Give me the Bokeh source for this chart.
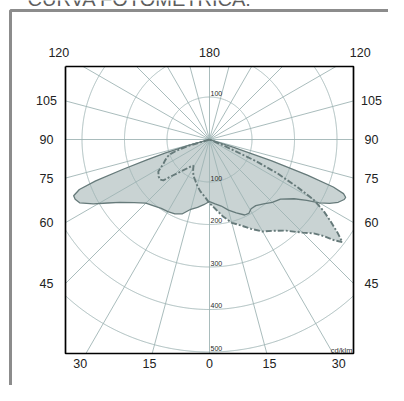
import math
import numpy as np
from bokeh.plotting import figure
from bokeh.models import Range1d, Label, LabelSet, ColumnDataSource
from bokeh.core.properties import value
from bokeh.embed import file_html
from bokeh.resources import INLINE

# ---------------- data (cd/klm, gamma in degrees from nadir) ----------------
solid_left_gamma = [0, 5, 10, 15, 20, 25, 30, 35, 40, 45, 50, 55, 58, 61, 64, 66, 67.5, 69, 70, 71, 72, 73, 74, 75]
solid_left_cd = [146, 154, 162, 170, 186, 193, 196, 198, 204, 212, 231, 258, 282, 312, 340, 346, 346, 328, 285, 215, 155, 108, 55, 0]
solid_right_gamma = [0, 5, 10, 15, 20, 25, 28, 31, 35, 40, 45, 50, 55, 58, 60, 62, 64, 66, 67, 68, 69, 70, 71, 72, 73]
solid_right_cd = [146, 152, 159, 172, 184, 196, 197, 190, 190, 198, 209, 218, 243, 270, 298, 320, 337, 347, 348, 340, 312, 245, 155, 60, 0]

dash_left_gamma = [0, 4, 10, 15, 24, 28, 31.6, 35, 42, 46.5, 48.5, 51, 54, 58, 62.4, 65, 67.5, 69.5, 71.5, 73, 74]
dash_left_cd = [150, 137, 124, 112, 93, 82, 72, 78, 102, 127, 145, 150, 148, 142, 122, 115, 108, 100, 80, 50, 0]
dash_right_gamma = [0, 3, 6, 10, 15, 20, 25, 30, 35, 40, 45, 48, 50, 51, 52.3, 54, 56, 58, 60, 61.5, 63.5, 65, 67, 68]
dash_right_cd = [150, 158, 168, 184, 203, 215, 232, 250, 262, 280, 310, 330, 355, 376, 395, 372, 343, 316, 282, 236, 179, 122, 36, 0]

circle_values = [100, 200, 300, 400, 500]
circle_labels = ["100", "200", "300", "400", "500"]
ray_step_deg = 15
side_angles = [105, 90, 75, 60, 45]
bottom_angles = [30, 15, 0, 15, 30]
bottom_sides = [-1, -1, 0, 1, 1]
top_angles = [120, 180, 120]
top_sides = [-1, 0, 1]
unit_text = "cd/klm"
title_text = "CURVA FOTOMÉTRICA:"

# ---------------- layout (pixels) ----------------
W, H = 388, 385
CX, CY = 209.0, 139.0          # pole position
S = 0.425                      # px per cd/klm
FL, FR, FT, FB = 65, 353, 66, 353   # black diagram box
FONT = "Liberation Sans"

FILL = "#c9d3d3"
GRID = "#9fb4b4"
EDGE = "#667a7a"
TXT = "#222222"


def px_x(px):
    return (px - CX) / S


def px_y(py):
    return (CY - py) / S


def half(gammas, vals, sign):
    xs = [sign * v * math.sin(math.radians(g)) for g, v in zip(gammas, vals)]
    ys = [-v * math.cos(math.radians(g)) for g, v in zip(gammas, vals)]
    return xs, ys


def closed_curve(gl, vl, gr, vr):
    lx, ly = half(gl, vl, -1)
    rx, ry = half(gr, vr, 1)
    xs = lx[::-1] + rx
    ys = ly[::-1] + ry
    return xs + [xs[0]], ys + [ys[0]]


BXL, BXR, BYT, BYB = px_x(FL), px_x(FR), px_y(FT), px_y(FB)

p = figure(width=W, height=H, title=None,
           x_range=Range1d(px_x(0), px_x(W)), y_range=Range1d(px_y(H), px_y(0)),
           x_axis_location=None, y_axis_location=None,
           toolbar_location=None, output_backend="svg",
           min_border_left=0, min_border_right=0, min_border_top=0, min_border_bottom=0)
p.grid.visible = False
p.outline_line_color = None
p.background_fill_color = "white"
p.border_fill_color = "white"

sx, sy = closed_curve(solid_left_gamma, solid_left_cd, solid_right_gamma, solid_right_cd)
dx_, dy_ = closed_curve(dash_left_gamma, dash_left_cd, dash_right_gamma, dash_right_cd)

# fills
p.patch(sx, sy, fill_color=FILL, line_color=None)
p.patch(dx_, dy_, fill_color=FILL, line_color=None)

# polar grid, clipped to the diagram box
x0s, y0s, x1s, y1s = [], [], [], []
for a in range(0, 360, ray_step_deg):
    t = math.radians(a)
    c, s = math.cos(t), math.sin(t)
    cand = []
    if c > 1e-9: cand.append(BXR / c)
    if c < -1e-9: cand.append(BXL / c)
    if s > 1e-9: cand.append(BYT / s)
    if s < -1e-9: cand.append(BYB / s)
    L = min(cand)
    x0s.append(0); y0s.append(0); x1s.append(L * c); y1s.append(L * s)
p.segment(x0s, y0s, x1s, y1s, line_color=GRID, line_width=0.9)

arc_xs, arc_ys = [], []
th = np.linspace(0, 2 * np.pi, 1441)
for r in circle_values:
    cx_, cy_ = r * np.cos(th), r * np.sin(th)
    inside = (cx_ >= BXL) & (cx_ <= BXR) & (cy_ >= BYB) & (cy_ <= BYT)
    run_x, run_y = [], []
    for xv, yv, ok in zip(cx_, cy_, inside):
        if ok:
            run_x.append(float(xv)); run_y.append(float(yv))
        elif run_x:
            arc_xs.append(run_x); arc_ys.append(run_y); run_x, run_y = [], []
    if run_x:
        arc_xs.append(run_x); arc_ys.append(run_y)
p.multi_line(arc_xs, arc_ys, line_color=GRID, line_width=0.9)

# outlines of the two curves
p.line(sx, sy, line_color=EDGE, line_width=1.3)
p.line(dx_, dy_, line_color=EDGE, line_width=1.9, line_dash="6 2 2 2")

# black diagram box
p.line([BXL, BXR, BXR, BXL, BXL], [BYT, BYT, BYB, BYB, BYT], line_color="black", line_width=1.7)

# outer grey frame (runs off the picture at right and bottom)
p.line([px_x(10), px_x(10), px_x(W + 20)], [px_y(H + 20), px_y(10), px_y(10)],
       line_color="#8c8c8c", line_width=3)

# circle value labels
lab_y = [circle_values[0] + 2.5] + [-v + 2.5 for v in circle_values]
lab_t = [circle_labels[0]] + circle_labels
p.add_layout(LabelSet(x="x", y="y", text="t",
                      source=ColumnDataSource(dict(x=[2.5] * len(lab_y), y=lab_y, t=lab_t)),
                      text_font=value(FONT), text_font_size="7px", text_color="#2a2a2a",
                      text_baseline="bottom", text_align="left"))

# angle labels
xs_l, ys_l, ts_l = [], [], []
for a in side_angles:
    yv = -BXR * math.cos(math.radians(a)) / math.sin(math.radians(a))
    for xp in (46, 371):
        xs_l.append(px_x(xp)); ys_l.append(yv); ts_l.append(str(a))
ybot = px_y(363)
for a, sd in zip(bottom_angles, bottom_sides):
    xs_l.append(sd * abs(ybot) * math.tan(math.radians(a))); ys_l.append(ybot); ts_l.append(str(a))
ytop = px_y(52)
for a, sd in zip(top_angles, top_sides):
    t = math.radians(a)
    xv = 0 if sd == 0 else sd * ytop * math.sin(t) / (-math.cos(t))
    xs_l.append(xv); ys_l.append(ytop); ts_l.append(str(a))
p.add_layout(LabelSet(x="x", y="y", text="t",
                      source=ColumnDataSource(dict(x=xs_l, y=ys_l, t=ts_l)),
                      text_font=value(FONT), text_font_size="12.5px", text_color=TXT,
                      text_baseline="middle", text_align="center"))

# unit label
p.add_layout(Label(x=px_x(352), y=px_y(349.5), text=unit_text, text_font=FONT,
                   text_font_size="7.5px", text_color="#333333", text_align="right",
                   text_baseline="alphabetic"))

# title, cut off at the top as in the source
p.add_layout(Label(x=px_x(27), y=px_y(-1.5), text=title_text, text_font=FONT,
                   text_font_size="20px", text_color="#5e5e5e", text_align="left",
                   text_baseline="alphabetic"))

open("out.html", "w", encoding="utf-8").write(file_html(p, INLINE))
